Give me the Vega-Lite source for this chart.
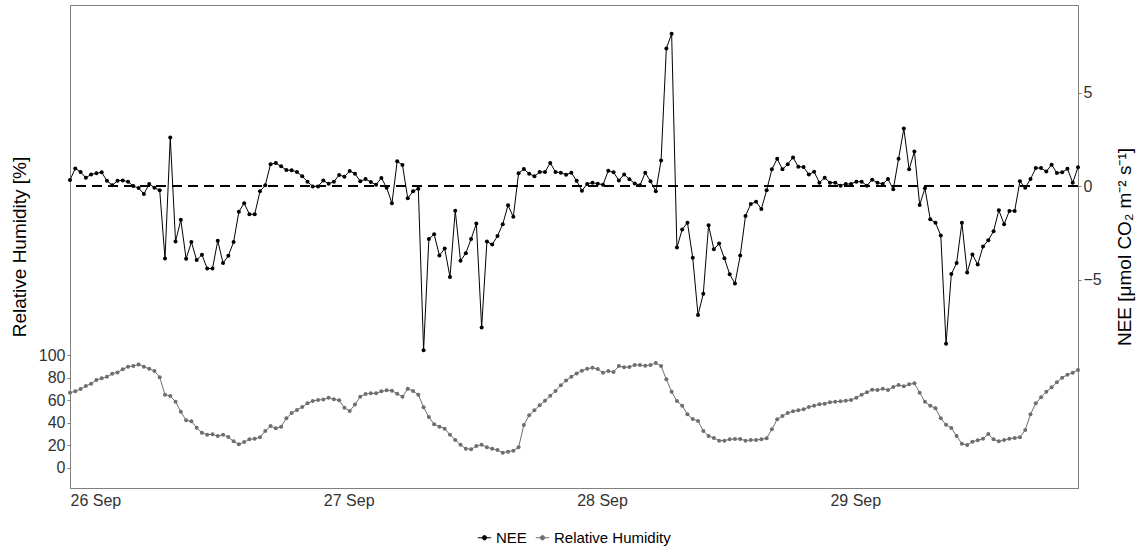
{
  "$schema": "https://vega.github.io/schema/vega-lite/v6.json",
  "width": 1008,
  "height": 483,
  "autosize": {"type": "none"},
  "padding": {"left": 70, "top": 5, "right": 59, "bottom": 66},
  "background": "white",
  "data": {"values": [
    {"time":"2021-09-26T00:00","NEE":0.32,"RH":66.5},{"time":"2021-09-26T00:30","NEE":0.94,"RH":67.8},
    {"time":"2021-09-26T01:00","NEE":0.75,"RH":69.8},{"time":"2021-09-26T01:30","NEE":0.44,"RH":72.5},
    {"time":"2021-09-26T02:00","NEE":0.62,"RH":74.5},{"time":"2021-09-26T02:30","NEE":0.68,"RH":77.8},
    {"time":"2021-09-26T03:00","NEE":0.73,"RH":79.3},{"time":"2021-09-26T03:30","NEE":0.28,"RH":80.7},
    {"time":"2021-09-26T04:00","NEE":0.04,"RH":83.4},{"time":"2021-09-26T04:30","NEE":0.28,"RH":84.6},
    {"time":"2021-09-26T05:00","NEE":0.30,"RH":87.3},{"time":"2021-09-26T05:30","NEE":0.23,"RH":89.6},
    {"time":"2021-09-26T06:00","NEE":0.00,"RH":90.2},{"time":"2021-09-26T06:30","NEE":-0.11,"RH":91.7},
    {"time":"2021-09-26T07:00","NEE":-0.43,"RH":89.6},{"time":"2021-09-26T07:30","NEE":0.11,"RH":87.8},
    {"time":"2021-09-26T08:00","NEE":-0.09,"RH":85.8},{"time":"2021-09-26T08:30","NEE":-0.23,"RH":80.2},
    {"time":"2021-09-26T09:00","NEE":-3.88,"RH":64.8},{"time":"2021-09-26T09:30","NEE":2.6,"RH":63.6},
    {"time":"2021-09-26T10:00","NEE":-2.97,"RH":58.6},{"time":"2021-09-26T10:30","NEE":-1.81,"RH":49.7},
    {"time":"2021-09-26T11:00","NEE":-3.89,"RH":42.1},{"time":"2021-09-26T11:30","NEE":-3.0,"RH":41.2},
    {"time":"2021-09-26T12:00","NEE":-3.96,"RH":35.5},{"time":"2021-09-26T12:30","NEE":-3.68,"RH":31.1},
    {"time":"2021-09-26T13:00","NEE":-4.41,"RH":29.3},{"time":"2021-09-26T13:30","NEE":-4.41,"RH":29.6},
    {"time":"2021-09-26T14:00","NEE":-2.93,"RH":28.1},{"time":"2021-09-26T14:30","NEE":-4.12,"RH":29.3},
    {"time":"2021-09-26T15:00","NEE":-3.73,"RH":27.2},{"time":"2021-09-26T15:30","NEE":-3.0,"RH":23.4},
    {"time":"2021-09-26T16:00","NEE":-1.37,"RH":20.8},{"time":"2021-09-26T16:30","NEE":-0.92,"RH":22.8},
    {"time":"2021-09-26T17:00","NEE":-1.51,"RH":25.2},{"time":"2021-09-26T17:30","NEE":-1.51,"RH":25.7},
    {"time":"2021-09-26T18:00","NEE":-0.28,"RH":27.0},{"time":"2021-09-26T18:30","NEE":0.04,"RH":32.6},
    {"time":"2021-09-26T19:00","NEE":1.17,"RH":37.0},{"time":"2021-09-26T19:30","NEE":1.23,"RH":35.0},
    {"time":"2021-09-26T20:00","NEE":1.05,"RH":36.4},{"time":"2021-09-26T20:30","NEE":0.85,"RH":43.8},
    {"time":"2021-09-26T21:00","NEE":0.84,"RH":48.5},{"time":"2021-09-26T21:30","NEE":0.75,"RH":51.2},
    {"time":"2021-09-26T22:00","NEE":0.52,"RH":53.9},{"time":"2021-09-26T22:30","NEE":0.23,"RH":57.1},
    {"time":"2021-09-26T23:00","NEE":-0.02,"RH":59.2},{"time":"2021-09-26T23:30","NEE":-0.02,"RH":60.1},
    {"time":"2021-09-27T00:00","NEE":0.30,"RH":60.5},{"time":"2021-09-27T00:30","NEE":0.12,"RH":62.1},
    {"time":"2021-09-27T01:00","NEE":0.23,"RH":60.7},{"time":"2021-09-27T01:30","NEE":0.59,"RH":59.8},
    {"time":"2021-09-27T02:00","NEE":0.50,"RH":53.2},{"time":"2021-09-27T02:30","NEE":0.80,"RH":50.3},
    {"time":"2021-09-27T03:00","NEE":0.66,"RH":56.2},{"time":"2021-09-27T03:30","NEE":0.25,"RH":63.0},
    {"time":"2021-09-27T04:00","NEE":0.37,"RH":65.4},{"time":"2021-09-27T04:30","NEE":0.21,"RH":66.0},
    {"time":"2021-09-27T05:00","NEE":0.07,"RH":66.0},{"time":"2021-09-27T05:30","NEE":0.43,"RH":67.8},
    {"time":"2021-09-27T06:00","NEE":-0.09,"RH":68.7},{"time":"2021-09-27T06:30","NEE":-0.92,"RH":68.3},
    {"time":"2021-09-27T07:00","NEE":1.32,"RH":65.7},{"time":"2021-09-27T07:30","NEE":1.12,"RH":63.0},
    {"time":"2021-09-27T08:00","NEE":-0.66,"RH":70.1},{"time":"2021-09-27T08:30","NEE":-0.28,"RH":68.1},
    {"time":"2021-09-27T09:00","NEE":-0.14,"RH":64.8},{"time":"2021-09-27T09:30","NEE":-8.78,"RH":53.6},
    {"time":"2021-09-27T10:00","NEE":-2.84,"RH":45.0},{"time":"2021-09-27T10:30","NEE":-2.58,"RH":38.5},
    {"time":"2021-09-27T11:00","NEE":-3.72,"RH":36.4},{"time":"2021-09-27T11:30","NEE":-3.34,"RH":34.6},
    {"time":"2021-09-27T12:00","NEE":-4.87,"RH":29.3},{"time":"2021-09-27T12:30","NEE":-1.32,"RH":24.6},
    {"time":"2021-09-27T13:00","NEE":-4.0,"RH":20.4},{"time":"2021-09-27T13:30","NEE":-3.59,"RH":16.9},
    {"time":"2021-09-27T14:00","NEE":-2.84,"RH":16.3},{"time":"2021-09-27T14:30","NEE":-2.01,"RH":19.3},
    {"time":"2021-09-27T15:00","NEE":-7.57,"RH":20.4},{"time":"2021-09-27T15:30","NEE":-2.97,"RH":18.1},
    {"time":"2021-09-27T16:00","NEE":-3.13,"RH":16.9},{"time":"2021-09-27T16:30","NEE":-2.67,"RH":15.7},
    {"time":"2021-09-27T17:00","NEE":-2.04,"RH":13.3},{"time":"2021-09-27T17:30","NEE":-1.03,"RH":14.2},
    {"time":"2021-09-27T18:00","NEE":-1.65,"RH":15.1},{"time":"2021-09-27T18:30","NEE":0.68,"RH":18.1},
    {"time":"2021-09-27T19:00","NEE":0.91,"RH":37.9},{"time":"2021-09-27T19:30","NEE":0.66,"RH":46.5},
    {"time":"2021-09-27T20:00","NEE":0.52,"RH":50.9},{"time":"2021-09-27T20:30","NEE":0.75,"RH":55.4},
    {"time":"2021-09-27T21:00","NEE":0.75,"RH":59.4},{"time":"2021-09-27T21:30","NEE":1.23,"RH":63.9},
    {"time":"2021-09-27T22:00","NEE":0.75,"RH":68.1},{"time":"2021-09-27T22:30","NEE":0.71,"RH":73.1},
    {"time":"2021-09-27T23:00","NEE":0.60,"RH":77.5},{"time":"2021-09-27T23:30","NEE":0.71,"RH":80.7},
    {"time":"2021-09-28T00:00","NEE":0.28,"RH":83.7},{"time":"2021-09-28T00:30","NEE":-0.25,"RH":86.1},
    {"time":"2021-09-28T01:00","NEE":0.11,"RH":87.8},{"time":"2021-09-28T01:30","NEE":0.18,"RH":88.7},
    {"time":"2021-09-28T02:00","NEE":0.12,"RH":87.5},{"time":"2021-09-28T02:30","NEE":0.07,"RH":84.3},
    {"time":"2021-09-28T03:00","NEE":0.82,"RH":85.8},{"time":"2021-09-28T03:30","NEE":0.73,"RH":84.9},
    {"time":"2021-09-28T04:00","NEE":0.30,"RH":90.2},{"time":"2021-09-28T04:30","NEE":0.62,"RH":89.1},
    {"time":"2021-09-28T05:00","NEE":0.36,"RH":89.4},{"time":"2021-09-28T05:30","NEE":0.14,"RH":91.1},
    {"time":"2021-09-28T06:00","NEE":0.04,"RH":91.1},{"time":"2021-09-28T06:30","NEE":0.71,"RH":90.5},
    {"time":"2021-09-28T07:00","NEE":0.25,"RH":91.1},{"time":"2021-09-28T07:30","NEE":-0.28,"RH":92.9},
    {"time":"2021-09-28T08:00","NEE":1.37,"RH":90.2},{"time":"2021-09-28T08:30","NEE":7.36,"RH":78.4},
    {"time":"2021-09-28T09:00","NEE":8.14,"RH":67.4},{"time":"2021-09-28T09:30","NEE":-3.29,"RH":59.2},
    {"time":"2021-09-28T10:00","NEE":-2.33,"RH":55.0},{"time":"2021-09-28T10:30","NEE":-1.96,"RH":47.4},
    {"time":"2021-09-28T11:00","NEE":-3.84,"RH":43.2},{"time":"2021-09-28T11:30","NEE":-6.9,"RH":41.4},
    {"time":"2021-09-28T12:00","NEE":-5.76,"RH":32.6},{"time":"2021-09-28T12:30","NEE":-2.10,"RH":28.1},
    {"time":"2021-09-28T13:00","NEE":-3.38,"RH":26.4},{"time":"2021-09-28T13:30","NEE":-3.08,"RH":24.0},
    {"time":"2021-09-28T14:00","NEE":-3.87,"RH":24.0},{"time":"2021-09-28T14:30","NEE":-4.72,"RH":25.2},
    {"time":"2021-09-28T15:00","NEE":-5.21,"RH":25.5},{"time":"2021-09-28T15:30","NEE":-3.72,"RH":25.5},
    {"time":"2021-09-28T16:00","NEE":-1.6,"RH":24.0},{"time":"2021-09-28T16:30","NEE":-0.96,"RH":24.6},
    {"time":"2021-09-28T17:00","NEE":-0.84,"RH":24.6},{"time":"2021-09-28T17:30","NEE":-1.23,"RH":25.2},
    {"time":"2021-09-28T18:00","NEE":-0.23,"RH":26.1},{"time":"2021-09-28T18:30","NEE":0.89,"RH":34.1},
    {"time":"2021-09-28T19:00","NEE":1.46,"RH":42.9},{"time":"2021-09-28T19:30","NEE":0.89,"RH":45.9},
    {"time":"2021-09-28T20:00","NEE":1.17,"RH":48.5},{"time":"2021-09-28T20:30","NEE":1.53,"RH":50.0},
    {"time":"2021-09-28T21:00","NEE":1.03,"RH":50.9},{"time":"2021-09-28T21:30","NEE":1.01,"RH":51.8},
    {"time":"2021-09-28T22:00","NEE":0.62,"RH":53.9},{"time":"2021-09-28T22:30","NEE":0.76,"RH":55.0},
    {"time":"2021-09-28T23:00","NEE":0.18,"RH":56.3},{"time":"2021-09-28T23:30","NEE":0.44,"RH":56.8},
    {"time":"2021-09-29T00:00","NEE":0.18,"RH":58.0},{"time":"2021-09-29T00:30","NEE":0.18,"RH":58.6},
    {"time":"2021-09-29T01:00","NEE":0.02,"RH":58.9},{"time":"2021-09-29T01:30","NEE":0.11,"RH":59.5},
    {"time":"2021-09-29T02:00","NEE":0.11,"RH":60.1},{"time":"2021-09-29T02:30","NEE":0.23,"RH":62.1},
    {"time":"2021-09-29T03:00","NEE":0.23,"RH":64.8},{"time":"2021-09-29T03:30","NEE":0.02,"RH":66.9},
    {"time":"2021-09-29T04:00","NEE":0.34,"RH":69.2},{"time":"2021-09-29T04:30","NEE":0.18,"RH":68.9},
    {"time":"2021-09-29T05:00","NEE":0.11,"RH":70.1},{"time":"2021-09-29T05:30","NEE":0.37,"RH":68.9},
    {"time":"2021-09-29T06:00","NEE":-0.18,"RH":71.6},{"time":"2021-09-29T06:30","NEE":1.46,"RH":73.4},
    {"time":"2021-09-29T07:00","NEE":3.07,"RH":72.2},{"time":"2021-09-29T07:30","NEE":0.89,"RH":74.0},
    {"time":"2021-09-29T08:00","NEE":1.85,"RH":74.9},{"time":"2021-09-29T08:30","NEE":-1.01,"RH":66.5},
    {"time":"2021-09-29T09:00","NEE":-0.12,"RH":58.6},{"time":"2021-09-29T09:30","NEE":-1.78,"RH":55.0},
    {"time":"2021-09-29T10:00","NEE":-1.96,"RH":52.7},{"time":"2021-09-29T10:30","NEE":-2.65,"RH":43.8},
    {"time":"2021-09-29T11:00","NEE":-8.43,"RH":38.2},{"time":"2021-09-29T11:30","NEE":-4.71,"RH":35.2},
    {"time":"2021-09-29T12:00","NEE":-4.12,"RH":28.1},{"time":"2021-09-29T12:30","NEE":-1.97,"RH":21.3},
    {"time":"2021-09-29T13:00","NEE":-4.62,"RH":20.1},{"time":"2021-09-29T13:30","NEE":-3.66,"RH":23.1},
    {"time":"2021-09-29T14:00","NEE":-4.2,"RH":24.3},{"time":"2021-09-29T14:30","NEE":-3.24,"RH":25.7},
    {"time":"2021-09-29T15:00","NEE":-2.9,"RH":29.9},{"time":"2021-09-29T15:30","NEE":-2.42,"RH":25.2},
    {"time":"2021-09-29T16:00","NEE":-1.30,"RH":23.4},{"time":"2021-09-29T16:30","NEE":-2.04,"RH":24.6},
    {"time":"2021-09-29T17:00","NEE":-1.33,"RH":25.7},{"time":"2021-09-29T17:30","NEE":-1.33,"RH":26.4},
    {"time":"2021-09-29T18:00","NEE":0.25,"RH":27.0},{"time":"2021-09-29T18:30","NEE":-0.09,"RH":33.5},
    {"time":"2021-09-29T19:00","NEE":0.37,"RH":47.4},{"time":"2021-09-29T19:30","NEE":0.96,"RH":57.1},
    {"time":"2021-09-29T20:00","NEE":0.96,"RH":62.5},{"time":"2021-09-29T20:30","NEE":0.78,"RH":67.4},
    {"time":"2021-09-29T21:00","NEE":1.14,"RH":71.3},{"time":"2021-09-29T21:30","NEE":0.69,"RH":75.8},
    {"time":"2021-09-29T22:00","NEE":0.73,"RH":79.9},{"time":"2021-09-29T22:30","NEE":0.92,"RH":82.5},
    {"time":"2021-09-29T23:00","NEE":0.18,"RH":84.3},{"time":"2021-09-29T23:30","NEE":1.0,"RH":86.7}
  ]},
  "encoding": {
    "x": {
      "field": "time", "type": "temporal",
      "scale": {"domain": [{"year": 2021, "month": 9, "date": 26, "hours": 0}, {"year": 2021, "month": 9, "date": 29, "hours": 23, "minutes": 30}]},
      "axis": {
        "title": null,
        "values": [{"year": 2021, "month": 9, "date": 26}, {"year": 2021, "month": 9, "date": 27}, {"year": 2021, "month": 9, "date": 28}, {"year": 2021, "month": 9, "date": 29}],
        "format": "%d %b",
        "labelAlign": "left",
        "labelFlush": false,
        "labelPadding": 4,
        "ticks": false
      }
    }
  },
  "layer": [
    {
      "encoding": {
        "y": {
          "type": "quantitative",
          "scale": {"domain": [-16.15, 9.68], "nice": false, "zero": false},
          "axis": {
            "orient": "right",
            "values": [-5, 0, 5],
            "title": "NEE [μmol CO₂ m⁻² s⁻¹]",
            "titleAngle": 270,
            "titleBaseline": "top",
            "titlePadding": 14
          }
        }
      },
      "layer": [
        {
          "mark": {"type": "rule", "strokeDash": [10, 6], "strokeWidth": 2, "color": "black"},
          "encoding": {"y": {"datum": 0, "type": "quantitative"}, "x": null}
        },
        {
          "mark": {"type": "line", "strokeWidth": 1},
          "encoding": {
            "y": {"field": "NEE", "type": "quantitative"},
            "color": {"datum": "NEE", "type": "nominal"}
          }
        },
        {
          "mark": {"type": "point", "filled": true, "size": 16, "opacity": 1},
          "encoding": {
            "y": {"field": "NEE", "type": "quantitative"},
            "color": {"datum": "NEE", "type": "nominal"}
          }
        }
      ]
    },
    {
      "encoding": {
        "y": {
          "field": "RH",
          "type": "quantitative",
          "scale": {"domain": [-18.0, 410.6], "nice": false, "zero": false},
          "axis": {
            "orient": "left",
            "values": [0, 20, 40, 60, 80, 100],
            "title": "Relative Humidity [%]",
            "titlePadding": 9
          }
        }
      },
      "layer": [
        {
          "mark": {"type": "line", "strokeWidth": 1},
          "encoding": {"color": {"datum": "Relative Humidity", "type": "nominal"}}
        },
        {
          "mark": {"type": "point", "filled": true, "size": 16, "opacity": 1},
          "encoding": {"color": {"datum": "Relative Humidity", "type": "nominal"}}
        }
      ]
    }
  ],
  "resolve": {"scale": {"y": "independent"}},
  "config": {
    "font": "Liberation Sans",
    "view": {"stroke": "#808080", "strokeWidth": 1},
    "axis": {
      "grid": false,
      "labelFont": "Liberation Sans",
      "titleFont": "Liberation Sans",
      "labelFontSize": 16,
      "titleFontSize": 19,
      "titleFontWeight": "normal",
      "labelColor": "#333333",
      "titleColor": "#000000",
      "domainColor": "#808080",
      "tickColor": "#808080",
      "tickSize": 3,
      "labelPadding": 2
    },
    "range": {"category": ["#000000", "#6e6e6e"]},
    "legend": {
      "orient": "bottom",
      "direction": "horizontal",
      "title": null,
      "labelFont": "Liberation Sans",
      "labelFontSize": 15,
      "labelColor": "#000000",
      "symbolType": "M-1,0H1M-0.32,0A0.32,0.32,0,1,0,0.32,0A0.32,0.32,0,1,0,-0.32,0Z",
      "symbolSize": 180,
      "symbolStrokeWidth": 1,
      "symbolOpacity": 1,
      "columnPadding": 6,
      "offset": 22,
      "layout": {"bottom": {"anchor": "middle"}}
    }
  }
}
